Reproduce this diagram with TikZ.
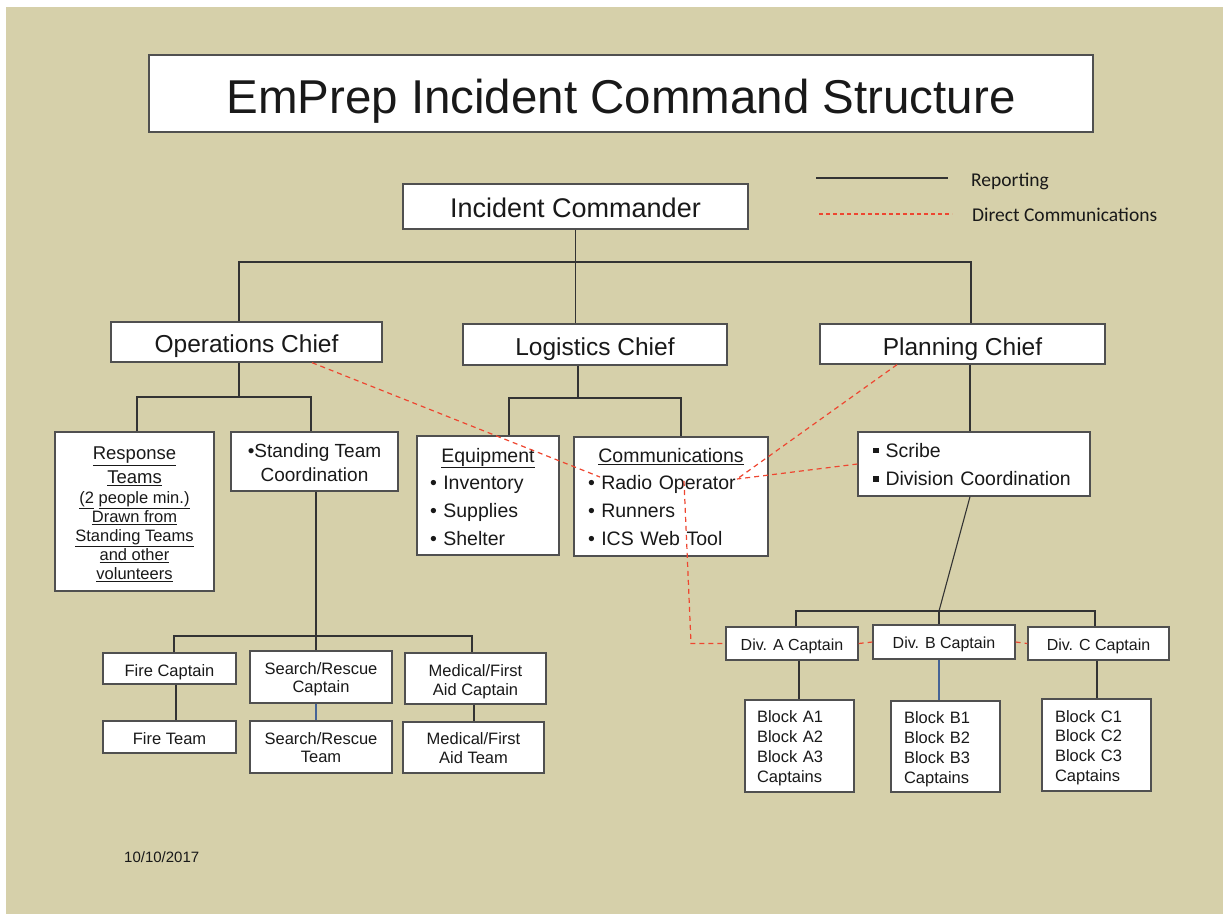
\documentclass[tikz,border=0pt]{standalone}
\usepackage{fontspec}
\setmainfont{Liberation Sans}
\newfontfamily\legendfont{Carlito}
\definecolor{tanbg}{RGB}{214,208,170}
\definecolor{boxline}{RGB}{80,80,80}
\definecolor{dred}{RGB}{238,70,48}
\definecolor{lineblue}{RGB}{70,100,150}
\newcommand\setfs[2]{\fontsize{#1}{#2}\selectfont}
\begin{document}
\begin{tikzpicture}[x=1pt,y=-1pt,
  box/.style={draw=boxline, fill=white, line width=1.3pt, inner sep=0pt, align=center, text=black!90, text depth=0pt},
  th/.style={text height=#1},
  thd/.style 2 args={text height=#1, text depth=#2},
  rep/.style={draw=black!80, line width=1.1pt},
  repblue/.style={draw=lineblue, line width=1.1pt},
  dcom/.style={draw=dred, line width=1.2pt, dash pattern=on 5pt off 4pt},
  lbl/.style={inner sep=0pt, text=black!90},
]
\fill[white] (0,0) rectangle (1223,914);
\fill[tanbg] (6,7) rectangle (1223,914);
\useasboundingbox (0,0) rectangle (1223,914);

% title
\node[box, th=39pt, minimum width=944pt, minimum height=77pt, font=\setfs{47.5}{57}] (title) at (621,93.5) {EmPrep Incident Command Structure};

% level 1-2
\node[box, th=22.3pt, minimum width=345pt, minimum height=45pt, font=\setfs{27}{32}] (ic) at (575.5,206.5) {Incident Commander};
\node[box, th=21.5pt, minimum width=271pt, minimum height=40pt, font=\setfs{24.5}{29}] (ops) at (246.5,342) {Operations Chief};
\node[box, th=21.1pt, minimum width=264pt, minimum height=41pt, font=\setfs{24.5}{29}] (log) at (595,344.5) {Logistics Chief};
\node[box, th=23pt, minimum width=285pt, minimum height=40pt, font=\setfs{24.5}{29}] (plan) at (962.5,344) {Planning Chief};

% operations children
\node[box, th=136pt, minimum width=159pt, minimum height=159pt, font=\setfs{16.5}{19}] (resp) at (134.5,511.5)
  {{\setfs{18.5}{19}\underline{Response}}\\[5pt]{\setfs{18.5}{19}\underline{Teams}}\\[1pt]\underline{(2} \underline{people min.)}\\\underline{Drawn from}\\\underline{Standing Teams}\\\underline{and other}\\\underline{volunteers}};
\node[box, th=40.4pt, minimum width=167pt, minimum height=59pt, font=\setfs{19}{24}] (stand) at (314.5,461.5) {\textbullet Standing Team\\Coordination};

% logistics children
\node[box, thd={16.2pt}{82.8pt}, minimum width=142pt, minimum height=119pt, text width=116pt, align=left, font=\setfs{19.5}{27.6}] (equip) at (488,495.5)
  {\makebox[116pt]{\underline{Equipment}}\\\textbullet\ Inventory\\\textbullet\ Supplies\\\textbullet\ Shelter};
\node[box, thd={14.2pt}{82.8pt}, minimum width=194pt, minimum height=119pt, text width=166pt, align=left, font=\setfs{19.5}{27.6}] (comm) at (671,496.5)
  {\makebox[166pt]{\underline{Communications}}\\\textbullet\ Radio Operator\\\textbullet\ Runners\\\textbullet\ ICS Web Tool};

% planning children
\node[box, thd={15pt}{28.4pt}, minimum width=232pt, minimum height=64pt, text width=202pt, align=left, font=\setfs{19.5}{28.4}] (scribe) at (974,464)
  {\rule[4pt]{5.5pt}{5.5pt}\hspace{7pt}Scribe\\\rule[4pt]{5.5pt}{5.5pt}\hspace{7pt}Division Coordination};

% captains
\node[box, th=15.2pt, minimum width=133pt, minimum height=31pt, font=\setfs{16.5}{19}] (firec) at (169.5,668.5) {Fire Captain};
\node[box, th=14.8pt, minimum width=133pt, minimum height=32pt, font=\setfs{16.5}{19}] (firet) at (169.5,737) {Fire Team};
\node[box, th=31.4pt, minimum width=142pt, minimum height=52pt, font=\setfs{16.5}{18.4}] (src) at (321,677) {Search/Rescue\\Captain};
\node[box, th=31.4pt, minimum width=142pt, minimum height=52pt, font=\setfs{16.5}{18.4}] (srt) at (321,747) {Search/Rescue\\Team};
\node[box, th=33pt, minimum width=141pt, minimum height=51pt, font=\setfs{16.5}{19}] (medc) at (475.5,678.5) {Medical/First\\Aid Captain};
\node[box, th=31.6pt, minimum width=141pt, minimum height=51pt, font=\setfs{16.5}{19}] (medt) at (473.5,747.5) {Medical/First\\Aid Team};

% divisions
\node[box, th=13.5pt, minimum width=132pt, minimum height=33pt, font=\setfs{16}{19}] (diva) at (792,643.5) {Div. A Captain};
\node[box, th=13.1pt, minimum width=142pt, minimum height=34pt, font=\setfs{16}{19}] (divb) at (944,642) {Div. B Captain};
\node[box, th=14.5pt, minimum width=141pt, minimum height=33pt, font=\setfs{16}{19}] (divc) at (1098.5,643.5) {Div. C Captain};
\node[box, thd={13.4pt}{60pt}, minimum width=109pt, minimum height=92pt, text width=85pt, align=left, font=\setfs{16.5}{20}] (blka) at (799.5,746) {Block A1\\Block A2\\Block A3\\Captains};
\node[box, thd={13.6pt}{60pt}, minimum width=109pt, minimum height=91pt, text width=83pt, align=left, font=\setfs{16.5}{20}] (blkb) at (945.5,746.5) {Block B1\\Block B2\\Block B3\\Captains};
\node[box, thd={13.2pt}{58.8pt}, minimum width=109pt, minimum height=92pt, text width=83pt, align=left, font=\setfs{16.5}{19.6}] (blkc) at (1096.5,745) {Block C1\\Block C2\\Block C3\\Captains};

% reporting lines
\coordinate (j1l) at (239,262);
\coordinate (j1r) at (971,262);
\draw[rep] (ic.south) -- (ic.south |- log.north);
\draw[rep] (j1l |- ops.north) -- (j1l) -- (j1r) -- (j1r |- plan.north);

\coordinate (j2l) at (137,397);
\coordinate (j2r) at (311,397);
\draw[rep] (j1l |- ops.south) -- (j1l |- j2l);
\draw[rep] (j2l |- resp.north) -- (j2l) -- (j2r) -- (j2r |- stand.north);

\coordinate (j3l) at (174,636);
\coordinate (j3m) at (316,636);
\coordinate (j3r) at (472,636);
\draw[rep] (j3m |- stand.south) -- (j3m);
\draw[rep] (j3l |- firec.north) -- (j3l) -- (j3r) -- (j3r |- medc.north);
\draw[rep] (j3m) -- (j3m |- src.north);
\draw[rep] ([xshift=6.5pt]firec.south) -- ([xshift=6.5pt]firec.south |- firet.north);
\draw[repblue] ([xshift=-5pt]src.south) -- ([xshift=-5pt]src.south |- srt.north);
\draw[rep] ([xshift=-1.5pt]medc.south) -- ([xshift=-1.5pt]medc.south |- medt.north);

\coordinate (j4l) at (509,398);
\coordinate (j4m) at (578,398);
\coordinate (j4r) at (681,398);
\draw[rep] (j4m |- log.south) -- (j4m);
\draw[rep] (j4l |- equip.north) -- (j4l) -- (j4r) -- (j4r |- comm.north);

\draw[rep] ([xshift=7.5pt]plan.south) -- ([xshift=7.5pt]plan.south |- scribe.north);
\coordinate (j5l) at (796,611);
\coordinate (j5m) at (939,611);
\coordinate (j5r) at (1095,611);
\draw[rep] ([xshift=-4pt]scribe.south) -- (j5m);
\draw[rep] (j5l |- diva.north) -- (j5l) -- (j5r) -- (j5r |- divc.north);
\draw[rep] (j5m) -- (j5m |- divb.north);
\draw[rep] ([xshift=7pt]diva.south) -- ([xshift=7pt]diva.south |- blka.north);
\draw[repblue] ([xshift=-5pt]divb.south) -- ([xshift=-5pt]divb.south |- blkb.north);
\draw[rep] ([xshift=-1.5pt]divc.south) -- ([xshift=-1.5pt]divc.south |- blkc.north);

% direct communications
\coordinate (ro1) at (600,477);
\coordinate (ro2) at (737,479);
\coordinate (ro3) at (684,481);
\coordinate (dk) at (691,643.5);
\draw[dcom] ([xshift=65.5pt]ops.south) -- (ro1);
\draw[dcom] ([xshift=-65.5pt]plan.south) -- (ro2);
\draw[dcom] (scribe.west) -- (ro2);
\draw[dcom] (ro3) -- (dk) -- (diva.west);
\draw[dcom] (diva.east) -- (divb.west);
\draw[dcom] (divb.east) -- (divc.west);

% legend
\coordinate (l1a) at (816,178);
\coordinate (l1b) at (948,178);
\coordinate (l2a) at (819,214);
\coordinate (l2b) at (952,214);
\draw[rep] (l1a) -- (l1b);
\draw[dcom, dash pattern=on 4pt off 3pt] (l2a) -- (l2b);
\node[lbl, anchor=base west, font=\legendfont\setfs{19.5}{22}] (lrep) at (971,186) {Reporting};
\node[lbl, anchor=base west, font=\legendfont\setfs{19.5}{22}] (ldc) at (972,221) {Direct Communications};

% date
\node[lbl, anchor=base west, font=\setfs{15}{18}] (date) at (124,862.5) {10/10/2017};
\end{tikzpicture}
\end{document}
